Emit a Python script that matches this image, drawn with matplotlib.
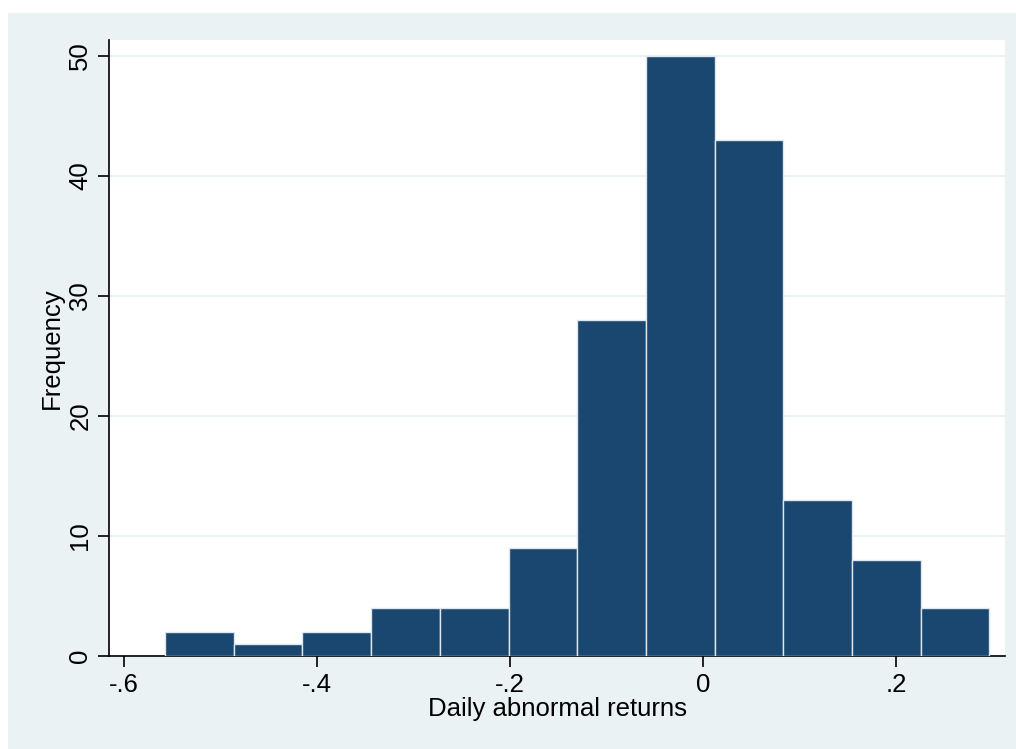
import matplotlib
matplotlib.use("Agg")
import matplotlib.pyplot as plt
from matplotlib.patches import Rectangle

# histogram of daily abnormal returns
bin_start = -0.5575
bin_width = 0.0712
counts = [2, 1, 2, 4, 4, 9, 28, 50, 43, 13, 8, 4]
x_ticks = [-0.6, -0.4, -0.2, 0.0, 0.2]
x_tick_labels = ["-.6", "-.4", "-.2", "0", ".2"]
y_ticks = [0, 10, 20, 30, 40, 50]

bar_color = "#1A476F"
bg_color = "#EAF2F3"

plt.rcParams["font.family"] = ["Liberation Sans", "DejaVu Sans"]

fig = plt.figure(figsize=(10.16, 7.49), dpi=100)
fig.patch.set_facecolor("white")
fig.patches.append(Rectangle((8 / 1016, 0), 1 - 8 / 1016, 1 - 13 / 749,
                             transform=fig.transFigure, facecolor=bg_color,
                             edgecolor="none", zorder=-10))

ax = fig.add_axes([109 / 1016, 93 / 749, 896 / 1016, 616 / 749])
ax.set_zorder(5)
ax.set_facecolor("white")

lefts = [bin_start + i * bin_width for i in range(len(counts))]
ax.bar(lefts, counts, width=bin_width, align="edge", color=bar_color,
       edgecolor="#DDE6EE", linewidth=1.0, zorder=3)

ax.set_xlim(-0.6155, 0.313)
ax.set_ylim(0, 51.33)
ax.set_xticks(x_ticks)
ax.set_xticklabels(x_tick_labels)
ax.set_yticks(y_ticks)
ax.set_yticklabels([str(v) for v in y_ticks], rotation=90, va="center")
ax.tick_params(axis="both", labelsize=18.5, length=8, width=1.2, color="black")
ax.tick_params(axis="x", pad=4)
ax.tick_params(axis="y", pad=4)

ax.grid(axis="y", color=bg_color, linewidth=1.5, zorder=1)
for side in ["top", "right"]:
    ax.spines[side].set_visible(False)
for side in ["left", "bottom"]:
    ax.spines[side].set_linewidth(1.2)

ax.set_xlabel("Daily abnormal returns", fontsize=18.5, labelpad=0)
ax.set_ylabel("Frequency", fontsize=18.5, labelpad=3)

fig.savefig("out.png", dpi=100, facecolor=fig.get_facecolor())
